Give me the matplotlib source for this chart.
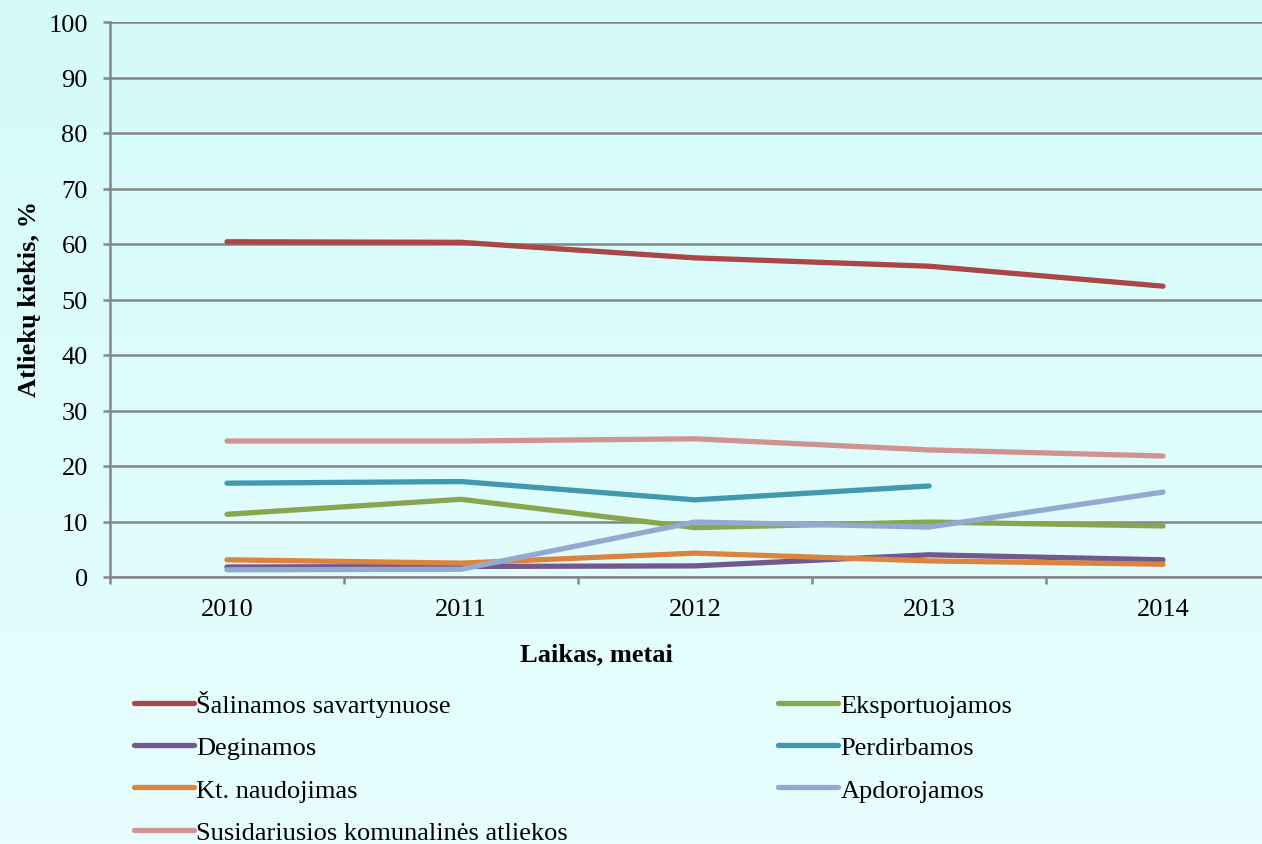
import matplotlib
matplotlib.use("Agg")
from matplotlib import pyplot as plt
from matplotlib.colors import LinearSegmentedColormap
import numpy as np

plt.rcParams['font.family'] = ['Liberation Serif', 'DejaVu Serif']

years = [2010, 2011, 2012, 2013, 2014]
salinamos = [60.4, 60.3, 57.5, 56.0, 52.4]
eksportuojamos = [11.3, 14.0, 8.9, 9.9, 9.2]
deginamos = [1.8, 1.9, 2.0, 4.0, 3.1]
perdirbamos = [16.9, 17.2, 13.9, 16.4, np.nan]
kt_naudojimas = [3.1, 2.5, 4.3, 2.9, 2.3]
apdorojamos = [1.3, 1.4, 9.9, 9.0, 15.3]
susidariusios = [24.5, 24.5, 24.9, 22.9, 21.8]

series = [
    ("Šalinamos savartynuose", salinamos, "#AA4643"),
    ("Eksportuojamos", eksportuojamos, "#89A54E"),
    ("Deginamos", deginamos, "#71588F"),
    ("Perdirbamos", perdirbamos, "#4198AF"),
    ("Kt. naudojimas", kt_naudojimas, "#DB843D"),
    ("Apdorojamos", apdorojamos, "#93A9CF"),
    ("Susidariusios komunalinės atliekos", susidariusios, "#D19392"),
]

fs = 19

fig = plt.figure(figsize=(12.62, 8.45), dpi=100)

# fonas su gradientu
bg = fig.add_axes([0, 0, 1, 1], zorder=-10)
cmap = LinearSegmentedColormap.from_list("bg", ["#D4FAFA", "#E8FEFE"])
bg.imshow(np.linspace(0, 1, 256).reshape(-1, 1), aspect="auto", cmap=cmap,
          extent=[0, 1, 0, 1], origin="upper")
bg.axis("off")

ax = fig.add_axes([110 / 1262, 267 / 845, 1170 / 1262, 555 / 845])
ax.patch.set_alpha(0)

x = np.arange(len(years))
lines = {}
for name, vals, col in series:
    ln, = ax.plot(x, vals, color=col, linewidth=3.8, solid_capstyle="round",
                  solid_joinstyle="round", label=name)
    lines[name] = ln

ax.set_xlim(-0.5, len(years) - 0.5)
ax.set_ylim(0, 100)
ax.set_yticks(range(0, 101, 10))
ax.set_xticks(x)
ax.set_xticklabels([str(y) for y in years])
ax.set_xticks(np.arange(-0.5, len(years), 1), minor=True)
ax.yaxis.grid(True, color="#868686", linewidth=1.8)
ax.set_axisbelow(True)

for s in ["top", "right"]:
    ax.spines[s].set_visible(False)
for s in ["left", "bottom"]:
    ax.spines[s].set_color("#868686")
    ax.spines[s].set_linewidth(1.8)

ax.tick_params(axis="y", length=5, width=1.8, color="#868686", labelsize=fs, pad=11)
ax.tick_params(axis="x", which="major", length=0, labelsize=fs, pad=15)
ax.tick_params(axis="x", which="minor", length=5, width=1.8, color="#868686")

fig.text(30 / 1262, 1 - 299 / 845, "Atliekų kiekis, %", fontsize=fs, fontweight="bold",
         rotation=90, ha="center", va="center")
fig.text(596 / 1262, 1 - 655 / 845, "Laikas, metai", fontsize=fs, fontweight="bold",
         ha="center", va="center")

order = ["Šalinamos savartynuose", "Deginamos", "Kt. naudojimas",
         "Susidariusios komunalinės atliekos",
         "Eksportuojamos", "Perdirbamos", "Apdorojamos"]
leg = fig.legend([lines[n] for n in order], order, ncol=2, frameon=False,
                 loc="upper left", bbox_to_anchor=(110 / 1262, 1 - 667 / 845),
                 fontsize=fs, handlelength=2.27, handletextpad=0.1,
                 labelspacing=0.72, columnspacing=7.95)

fig.savefig("out.png", dpi=100)
